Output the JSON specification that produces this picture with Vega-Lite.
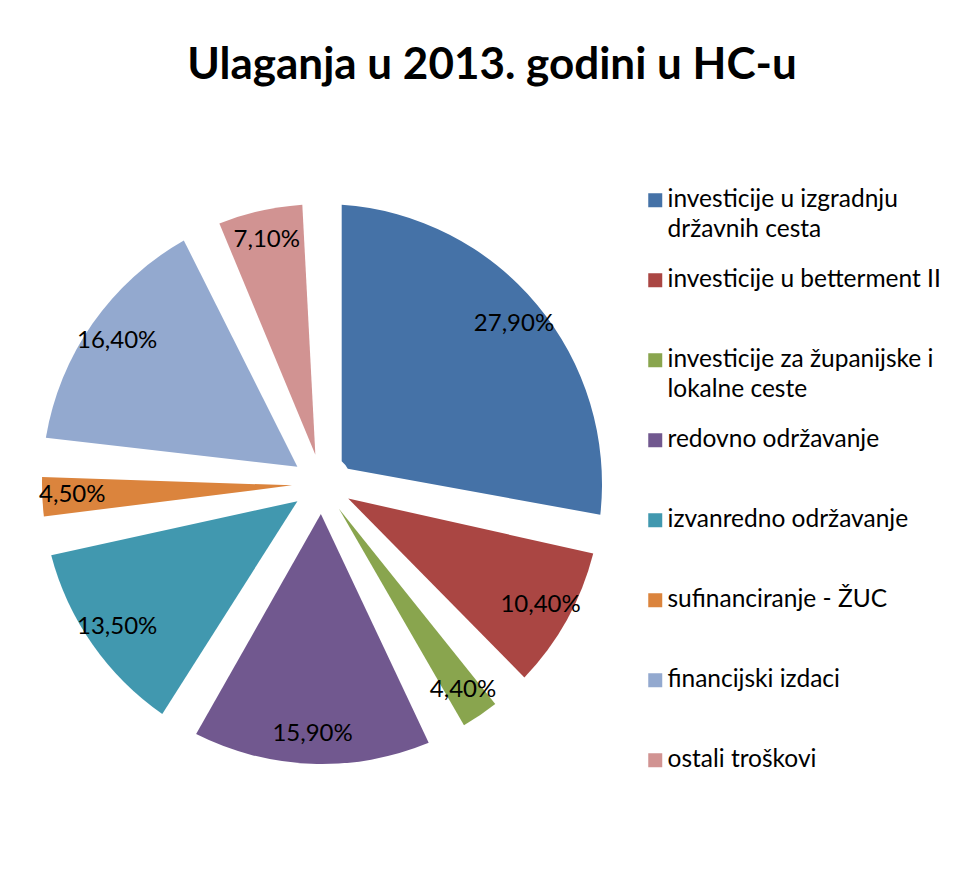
{
  "$schema": "https://vega.github.io/schema/vega-lite/v6.json",
  "width": 636,
  "height": 768,
  "padding": {"left": 4, "top": 44, "right": 0, "bottom": 0},
  "background": "white",
  "config": {
    "view": {"stroke": null},
    "locale": {"number": {"decimal": ",", "thousands": ".", "grouping": [3], "currency": ["", " €"]}},
    "style": {"guide-label": {"lineHeight": 30}}
  },
  "title": {
    "text": "Ulaganja u 2013. godini u HC-u",
    "font": "Lato",
    "fontSize": 44,
    "fontWeight": "bold",
    "color": "#000000",
    "anchor": "middle",
    "frame": "group",
    "dx": 170,
    "offset": 12
  },
  "data": {
    "values": [
      {"idx": 1, "cat": "investicije u izgradnju državnih cesta", "share": 0.279},
      {"idx": 2, "cat": "investicije u betterment II", "share": 0.104},
      {"idx": 3, "cat": "investicije za županijske i lokalne ceste", "share": 0.044},
      {"idx": 4, "cat": "redovno održavanje", "share": 0.159},
      {"idx": 5, "cat": "izvanredno održavanje", "share": 0.135},
      {"idx": 6, "cat": "sufinanciranje - ŽUC", "share": 0.045},
      {"idx": 7, "cat": "financijski izdaci", "share": 0.164},
      {"idx": 8, "cat": "ostali troškovi", "share": 0.071}
    ]
  },
  "encoding": {
    "theta": {"field": "share", "type": "quantitative", "stack": true},
    "order": {"field": "idx", "type": "quantitative"}
  },
  "layer": [
    {
      "mark": {"type": "arc", "outerRadius": 280, "innerRadius": 30, "padAngle": 0.14},
      "encoding": {
        "color": {
          "field": "cat",
          "type": "nominal",
          "sort": null,
          "scale": {
            "domain": [
              "investicije u izgradnju državnih cesta",
              "investicije u betterment II",
              "investicije za županijske i lokalne ceste",
              "redovno održavanje",
              "izvanredno održavanje",
              "sufinanciranje - ŽUC",
              "financijski izdaci",
              "ostali troškovi"
            ],
            "range": ["#4572A7", "#AA4643", "#89A54E", "#71588F", "#4198AF", "#DB843D", "#93A9CF", "#D19392"]
          },
          "legend": {
            "title": null,
            "orient": "none",
            "legendX": 639,
            "legendY": 88,
            "symbolType": "square",
            "symbolSize": 196,
            "symbolStrokeWidth": 0,
            "labelFont": "Lato",
            "labelFontSize": 24.5,
            "labelColor": "#000000",
            "labelOffset": 0,
            "labelLimit": 400,
            "rowPadding": 25,
            "labelExpr": "datum.label == 'investicije u izgradnju državnih cesta' ? ['investicije u izgradnju', 'državnih cesta'] : datum.label == 'investicije za županijske i lokalne ceste' ? ['investicije za županijske i', 'lokalne ceste'] : [datum.label, ' ']"
          }
        }
      }
    },
    {
      "mark": {"type": "text", "radius": 250, "font": "Lato", "fontSize": 24, "color": "#000000"},
      "encoding": {
        "detail": {"field": "cat", "type": "nominal"},
        "text": {"field": "share", "type": "quantitative", "format": ".2%"}
      }
    }
  ]
}
